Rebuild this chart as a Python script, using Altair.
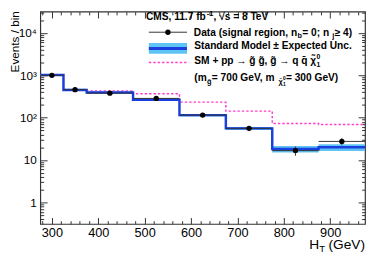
import altair as alt
import pandas as pd

# ---------------- data ----------------
edges = [275, 325, 375, 475, 575, 675, 775, 875, 975]
sm_vals = [1020, 453, 392, 266, 115, 56, 18.3, 20.0]
sm_rel_unc = [0.06, 0.06, 0.06, 0.06, 0.07, 0.08, 0.18, 0.18]
sig_vals = [1020, 453, 430, 366, 233, 143, 73, 69]
data_x = [300, 350, 425, 525, 625, 725, 825, 925]
data_lo = [275, 325, 375, 475, 575, 675, 775, 875]
data_hi = [325, 375, 475, 575, 675, 775, 875, 975]
data_y = [1000, 460, 380, 285, 115, 56, 16.7, 27.5]
data_err = [32, 21, 19, 17, 11, 7.5, 4.1, 5.2]

x_major = [300, 400, 500, 600, 700, 800, 900]
x_minor = [v for v in range(280, 975, 20) if v % 100 != 0]
y_major = [1, 10, 100, 1000, 10000]
y_minor = [k * 10.0 ** e for e in range(-1, 5) for k in range(2, 10)
           if 0.31 <= k * 10.0 ** e <= 31900]

W, H = 332, 217
FONT = "Liberation Sans"
BLUE = "#1a3fe0"
LBLUE = "#5ec4f4"
MAG = "#ff3fcc"

xs = alt.Scale(domain=[275, 975], nice=False, zero=False)
ys = alt.Scale(type="log", domain=[0.31, 31900], nice=False)

sm_df = pd.DataFrame({
    "x": edges,
    "y": sm_vals + [sm_vals[-1]],
    "lo": [v * (1 - u) for v, u in zip(sm_vals, sm_rel_unc)] + [sm_vals[-1] * (1 - sm_rel_unc[-1])],
    "hi": [v * (1 + u) for v, u in zip(sm_vals, sm_rel_unc)] + [sm_vals[-1] * (1 + sm_rel_unc[-1])],
})
sig_df = pd.DataFrame({"x": edges, "y": sig_vals + [sig_vals[-1]]})
dat_df = pd.DataFrame({
    "x": data_x, "xlo": data_lo, "xhi": data_hi, "y": data_y,
    "ylo": [y - e for y, e in zip(data_y, data_err)],
    "yhi": [y + e for y, e in zip(data_y, data_err)],
})
one = pd.DataFrame({"a": [0]})

band = alt.Chart(sm_df).mark_area(interpolate="step-after", color=LBLUE, opacity=1).encode(
    x=alt.X("x:Q", scale=xs, axis=None), y=alt.Y("lo:Q", scale=ys, axis=None), y2="hi:Q")
sig = alt.Chart(sig_df).mark_line(interpolate="step-after", color=MAG, strokeWidth=1.5,
                                  strokeDash=[2.5, 2]).encode(
    x=alt.X("x:Q", scale=xs, axis=None), y=alt.Y("y:Q", scale=ys, axis=None))
smline = alt.Chart(sm_df).mark_line(interpolate="step-after", color=BLUE, strokeWidth=2.5).encode(
    x=alt.X("x:Q", scale=xs, axis=None), y=alt.Y("y:Q", scale=ys, axis=None))
hbar = alt.Chart(dat_df).mark_rule(color="#333", strokeWidth=1).encode(
    x=alt.X("xlo:Q", scale=xs, axis=None), x2="xhi:Q", y=alt.Y("y:Q", scale=ys, axis=None))
vbar = alt.Chart(dat_df).mark_rule(color="#333", strokeWidth=1).encode(
    x=alt.X("x:Q", scale=xs, axis=None), y=alt.Y("ylo:Q", scale=ys, axis=None), y2="yhi:Q")
pts = alt.Chart(dat_df).mark_circle(color="black", size=30, opacity=1).encode(
    x=alt.X("x:Q", scale=xs, axis=None), y=alt.Y("y:Q", scale=ys, axis=None))

# ---------------- axes (ROOT style, inward ticks on four sides) ----------------
def carrier(xaxis, yaxis):
    return alt.Chart(sm_df).mark_point(opacity=0).encode(
        x=alt.X("x:Q", scale=xs, axis=xaxis), y=alt.Y("y:Q", scale=ys, axis=yaxis))

def tick_axis(orient, values, size, offset):
    return alt.Axis(orient=orient, values=values, tickSize=size, offset=offset, labels=False,
                    domain=False, grid=False, title=None, tickColor="#333", tickWidth=1)

label_expr = ("datum.value == 10000 ? '10⁴' : datum.value == 1000 ? '10³' : "
              "datum.value == 100 ? '10²' : datum.value == 10 ? '10' : '1'")
xlab = alt.Axis(orient="bottom", values=x_major, ticks=False, domain=False, grid=False,
                labelFontSize=13, labelPadding=3, labelColor="black", labelFont=FONT,
                format="d", title=None)
ylab = alt.Axis(orient="left", values=y_major, ticks=False, domain=False, grid=False,
                labelExpr=label_expr, labelFontSize=12, labelPadding=4, labelColor="black",
                labelFont=FONT, title="Events / bin", titleFont=FONT, titleFontSize=12,
                titleFontWeight="normal", titleColor="black", titleAngle=270,
                titleAlign="right", titleBaseline="alphabetic", titleX=-22, titleY=-1)

axes = [
    carrier(xlab, ylab),
    carrier(tick_axis("top", x_major, 6.5, -H), tick_axis("right", y_major, 7, -W)),
    carrier(tick_axis("top", x_minor, 3.3, -H), tick_axis("right", y_minor, 3.5, -W)),
    carrier(tick_axis("bottom", x_major, 6.5, -H), tick_axis("left", y_major, 7, -W)),
    carrier(tick_axis("bottom", x_minor, 3.3, -H), tick_axis("left", y_minor, 3.5, -W)),
]

# ---------------- legend & annotation ----------------
FS = 10.4
SUB = 7.5
AB = {' ': 278, '(': 333, ')': 333, '+': 584, ',': 278, '-': 333, '.': 278, '/': 278,
      ';': 333, '=': 584, '≥': 549, '±': 549, '→': 1000, '√': 549, 'χ': 556,
      'C': 722, 'D': 722, 'E': 667, 'G': 778, 'M': 833, 'S': 667, 'T': 611, 'U': 722, 'V': 667,
      'a': 556, 'b': 611, 'c': 556, 'd': 611, 'e': 556, 'f': 333, 'g': 611, 'i': 278, 'j': 278,
      'l': 278, 'm': 889, 'n': 611, 'o': 611, 'p': 611, 'q': 611, 'r': 389, 's': 556, 't': 333,
      'x': 556}

def tw(s, size):
    w = 0
    for ch in s:
        if ch.isdigit():
            w += 556
        elif ch in ('\u0303', '\u0304'):
            w += 0
        else:
            w += AB.get(ch, 556)
    return w * size / 1000.0

def text_mark(s, x, y, size, bold=True, align="left"):
    return alt.Chart(one).mark_text(text=s, font=FONT, fontSize=size, align=align,
                                    baseline="alphabetic", color="black",
                                    fontWeight="bold" if bold else "normal").encode(
        x=alt.value(x), y=alt.value(y))

def chain(pieces, x0, y0):
    out = []
    x = x0
    for s, size, dy, adv in pieces:
        out.append(text_mark(s, x, y0 + dy, size))
        if adv:
            x += tw(s, size) + 0.3
    return out

ann = []
ann += chain([("CMS, 11.7 fb", FS, 0, True), ("-1", SUB, -4, True),
              (", √s = 8 TeV", FS, 0, True)], 108, 8.5)
ann += chain([("Data (signal region, n", FS, 0, True), ("b", SUB, 2.5, True),
              (" = 0; n", FS, 0, True), ("j", SUB, 2.5, True), (" ≥ 4)", FS, 0, True)], 157, 24.5)
ann += chain([("Standard Model ± Expected Unc.", FS, 0, True)], 157.5, 38.5)
ann += chain([("SM + pp → g\u0303 g\u0303, g\u0303 → q q\u0304 χ\u0303", FS, 0, True),
              ("0", 7, -5.5, False), ("1", 7, 3.5, True)], 157.5, 53.5)
ann += chain([("(m", FS, 0, True), ("g\u0303", SUB, 2.5, True), (" = 700 GeV, m", FS, 0, True),
              ("χ\u0303", SUB, 2.5, True), ("0", 5, -1.5, False), ("1", 5, 5.5, True),
              (" = 300 GeV)", FS, 0, True)], 157.5, 71)

# x title
ann.append(text_mark("H", 275, 243, 14, bold=False))
ann.append(text_mark("T", 285.1, 246, 9.8, bold=False))
ann.append(text_mark("(GeV)", 332, 243, 14, bold=False, align="right"))

# legend symbols
leg = [
    alt.Chart(one).mark_rect(color=LBLUE).encode(x=alt.value(111), x2=alt.value(150),
                                                 y=alt.value(32), y2=alt.value(43)),
    alt.Chart(one).mark_rule(color=BLUE, strokeWidth=3).encode(x=alt.value(111), x2=alt.value(150),
                                                               y=alt.value(37.7)),
    alt.Chart(one).mark_rule(color="#333", strokeWidth=1).encode(x=alt.value(111), x2=alt.value(150),
                                                                 y=alt.value(21)),
    alt.Chart(one).mark_circle(color="black", size=30, opacity=1).encode(x=alt.value(130.5),
                                                                         y=alt.value(21)),
    alt.Chart(one).mark_rule(color=MAG, strokeWidth=1.5, strokeDash=[2.5, 2]).encode(
        x=alt.value(111), x2=alt.value(150), y=alt.value(52)),
]

chart = alt.layer(band, sig, smline, hbar, vbar, pts, *leg, *ann, *axes).resolve_axis(
    x="independent", y="independent"
).properties(
    width=W, height=H,
    autosize=alt.AutoSizeParams(type="none"),
    padding={"left": 33, "top": 1, "right": 1, "bottom": 28},
    background="white",
).configure_view(stroke="#333", strokeWidth=1.2)

chart.save("out.html", embed_options={"renderer": "svg", "actions": False})
